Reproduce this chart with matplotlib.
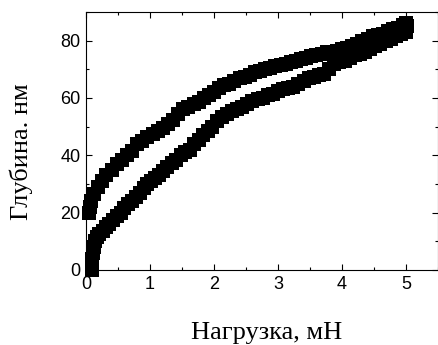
import matplotlib
matplotlib.use("Agg")
import matplotlib.pyplot as plt
from matplotlib.ticker import MultipleLocator

# loading branch (load, mN -> depth, nm)
load_up = [0.09, 0.09, 0.10, 0.11, 0.12, 0.14, 0.17, 0.21, 0.26, 0.31, 0.36, 0.42,
           0.48, 0.54, 0.60, 0.66, 0.72, 0.78, 0.84, 0.90, 0.96, 1.02, 1.08, 1.14,
           1.20, 1.27, 1.34, 1.41, 1.48, 1.55, 1.62, 1.69, 1.76, 1.83, 1.90, 1.97,
           2.04, 2.12, 2.20, 2.28, 2.36, 2.44, 2.52, 2.60, 2.68, 2.76, 2.84, 2.92,
           3.00, 3.08, 3.16, 3.24, 3.32, 3.40, 3.48, 3.56, 3.64, 3.72, 3.80, 3.88,
           3.96, 4.04, 4.12, 4.20, 4.28, 4.36, 4.44, 4.52, 4.60, 4.68, 4.76, 4.84,
           4.92, 5.00]
depth_up = [0, 2, 4, 6, 8, 10, 11.5, 12.5, 13.5, 15, 16, 17.5,
            19, 20, 21.5, 23, 24, 25.5, 27, 28.5, 30, 31, 32, 33,
            34.5, 36, 37.5, 38.5, 40, 41, 42, 44, 45.5, 47, 48.5, 50,
            52, 53.5, 54.5, 55.5, 56, 57, 58, 59, 59.5, 60, 61, 61.5,
            62.5, 63, 63.5, 64, 65, 66, 67, 67.5, 68, 68.5, 70, 72,
            72.5, 73, 74, 75, 75.5, 76, 77, 78, 79, 80, 80.5, 81.5,
            82.5, 83]

# unloading branch
load_down = [5.02, 5.00, 4.95, 4.88, 4.80, 4.72, 4.64, 4.56, 4.48, 4.40, 4.32, 4.24,
             4.16, 4.08, 4.00, 3.92, 3.84, 3.76, 3.68, 3.60, 3.52, 3.44, 3.36, 3.28,
             3.20, 3.12, 3.04, 2.96, 2.88, 2.80, 2.72, 2.64, 2.56, 2.48, 2.40, 2.32,
             2.24, 2.16, 2.08, 2.00, 1.92, 1.84, 1.76, 1.68, 1.60, 1.52, 1.44, 1.36,
             1.28, 1.20, 1.12, 1.04, 0.96, 0.88, 0.80, 0.72, 0.64, 0.56, 0.48, 0.40,
             0.32, 0.25, 0.18, 0.12, 0.08, 0.06, 0.05]
depth_down = [85, 86, 85.5, 84.5, 84, 83.5, 82.5, 82, 81.5, 80.5, 80, 79,
              78, 77.5, 77, 76.5, 76, 76, 75.5, 75, 74.5, 74, 73.5, 73,
              72.5, 72, 71.5, 71, 70.5, 70, 69.5, 69, 68, 67.5, 67, 66,
              65, 64.5, 63.5, 62, 61, 60, 58.5, 58, 57, 56, 54.5, 52.5,
              51, 49.5, 48.5, 47.5, 46.5, 45, 44, 41.5, 40, 38.5, 37, 35,
              33, 31, 29, 26.5, 24, 22, 20]

fig = plt.figure(figsize=(4.39, 3.45), dpi=100)
ax = fig.add_axes([86 / 439, 75 / 345, 352 / 439, 258 / 345])

for xs, ys in [(load_up, depth_up), (load_down, depth_down)]:
    ax.plot(xs, ys, "s", color="k", ms=10, mew=0, clip_on=False)

ax.set_xlim(0, 5.5)
ax.set_ylim(0, 90)
ax.xaxis.set_major_locator(MultipleLocator(1))
ax.xaxis.set_minor_locator(MultipleLocator(0.5))
ax.yaxis.set_major_locator(MultipleLocator(20))
ax.yaxis.set_minor_locator(MultipleLocator(10))
ax.tick_params(which="both", direction="in", top=True, right=True, width=0.8)
ax.tick_params(which="major", length=4.5, labelsize=13, pad=4)
ax.tick_params(which="minor", length=2.5)
for lab in ax.get_xticklabels() + ax.get_yticklabels():
    lab.set_family("Liberation Sans")
for s in ax.spines.values():
    s.set_linewidth(0.8)

fig.text(267 / 439, 1 - 339 / 345, "Нагрузка, мН", family="Liberation Serif",
         fontsize=19, ha="center", va="baseline")
fig.text(28 / 439, 1 - 152 / 345, "Глубина. нм", family="Liberation Serif",
         fontsize=19, ha="center", va="baseline", rotation=90,
         rotation_mode="anchor")

fig.savefig("out.png", dpi=100)
